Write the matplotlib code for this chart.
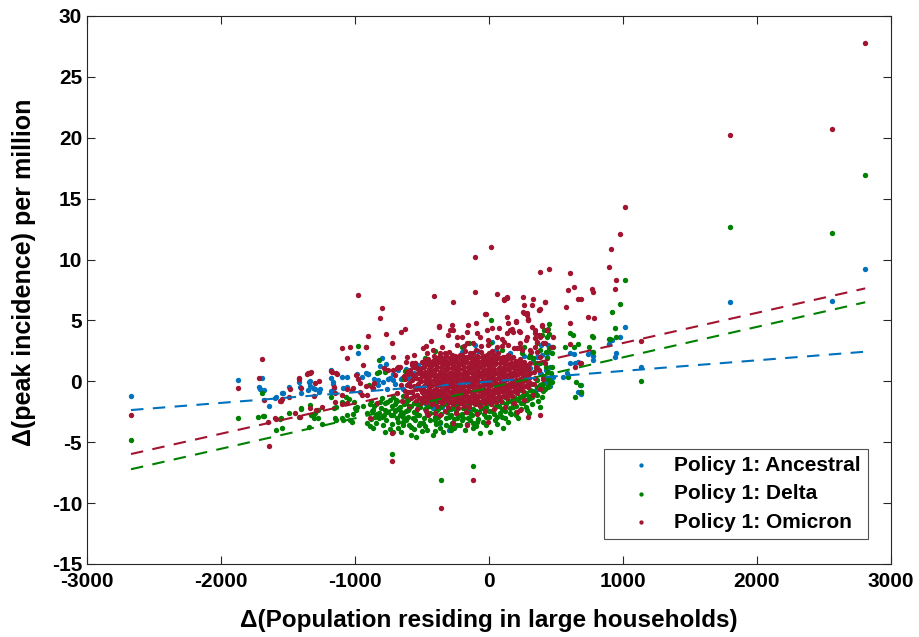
import numpy as np
import matplotlib.pyplot as plt

# ----Data----

series_names = ["Policy 1: Ancestral", "Policy 1: Delta", "Policy 1: Omicron"]
series_colors = ["#0072BD", "#008000", "#A2142F"]

ancestral = [
    (-2672, -1.18), (1801, 6.5), (2562, 6.6), (2808, 9.2),
    (1132, 1.15), (1017, 4.46), (978, 3.61), (896, 3.06), (950, 2.3), (940, 1.97), (893, 3.04), (916, 3.39),
    (739, 2.24), (771, 2.43), (774, 2.08), (778, 1.75),
    (607, 1.53), (640, 1.53), (604, 2.35), (632, 2.24), (666, 1.61), (662, -0.85), (687, -1.07), (687, -0.3),
    (584, 0.66), (554, 0.38),
    (386, 2.98), (443, 2.98), (450, 2.43), (393, 2.16), (431, 2.02), (356, 2.02), (405, 1.61), (455, 1.2),
    (460, 0.38), (425, 0.93), (381, 0.66),
    (-104, 2.98), (20, 3.25), (356, 1.48), (306, 1.07), (256, 0.93), (431, 0.79), (418, 0.11), (480, 0.38),
    (393, -0.3), (455, -0.39),
    (-1875, 0.08), (-1696, 0.3), (-1716, -0.44), (-1640, -2.03), (-1547, -0.93), (-1540, -0.93), (-1590, -1.31),
    (-1490, -0.44), (-1418, -0.03), (-1405, -0.93), (-1343, -0.03), (-1336, -0.39), (-1349, -0.71), (-1299, -0.66),
    (-1271, -0.85), (-1182, 0.93), (-1167, -0.03), (-1157, -0.57), (-1182, -0.77), (-980, 2.35), (-918, 0.66),
    (-900, 0.57), (-950, 0.33), (-1099, 0.38), (-1062, 0.38), (-1087, -0.57), (-1062, -0.44),
    (-801, 1.89), (-769, 1.42), (-813, 1.28), (-752, 0.19), (-714, 0.11), (-651, 0.25), (-627, 0.25), (-826, 0.11),
    (-793, -0.03), (-901, 0.6), (-987, 0.6), (-1179, 0.3), (-1162, -0.22), (-1336, 0.05), (-1316, -0.57),
    (-1261, -0.66), (-1410, -0.49), (-1597, -1.35), (-1709, -0.66), (-1679, -0.71),
    (-720, 0.6), (-700, -0.2), (-680, 0.9), (-660, 0.2), (-640, -0.6), (-620, 1.0), (-600, 0.3), (-580, -0.9),
    (-560, 0.7), (-530, 1.3), (-470, -1.9), (-420, -2.2), (-350, -2.1), (-280, -2.3), (-150, -2.3), (-60, -2.1),
    (-366, -3.46), (-300, -4.0), (-200, 2.4), (-80, 2.5), (50, 2.6), (160, 2.3), (260, 2.1), (330, 1.7),
    (360, 1.2), (390, 0.6), (410, -0.1), (350, -0.7), (300, -1.3), (-860, 0.2), (-830, -0.3), (-760, -0.6),
    (-740, 0.3), (-500, 0.5), (-450, -0.4), (-200, -0.8), (0, 0.3), (150, 0.6),
]

delta = [
    (-2672, -4.82), (1801, 12.7), (2562, 12.2), (2808, 16.9),
    (1132, 0.05), (1017, 8.32), (978, 6.35), (916, 5.66), (938, 4.35), (948, 3.61), (903, 3.5), (893, 3.47),
    (776, 3.66), (769, 3.72), (744, 2.79), (776, 2.41), (687, -0.85),
    (604, 3.99), (627, 3.78), (666, 3.06), (567, 2.84), (637, 2.84), (587, 0.38), (649, -0.03), (679, -0.3),
    (684, -0.88), (644, -1.26),
    (446, 4.7), (438, 4.29), (448, 3.88), (393, 3.8), (480, 2.84), (356, 3.12), (425, 2.43), (468, 2.3), (261, 2.84),
    (425, 1.2), (460, 0.66), (351, 1.07), (450, -0.03), (381, -0.3), (400, -0.57), (443, -0.44),
    (13, 5.03), (410, 4.21), (431, 3.66), (-403, 2.51), (-147, 3.12), (7, 3.12), (231, 2.71), (306, 2.16),
    (381, 2.57), (446, 2.71), (331, 1.89), (381, 1.48), (431, 1.89), (468, 1.2), (468, -0.03), (356, -0.44),
    (306, -0.71), (231, -1.26), (256, -1.81), (182, -2.08), (306, -1.4), (281, -2.36),
    (107, -3.86), (7, -4.14), (-67, -4.27), (-117, -3.86), (-216, -3.59), (-291, -3.73), (-366, -3.86),
    (-465, -4.0), (-490, -3.45), (-192, -3.04), (-92, -3.32), (57, -2.9), (157, -2.63), (-122, -6.95),
    (-360, -8.1), (-726, -5.99),
    (-1875, -2.99), (-1696, -0.93), (-1722, -2.9), (-1679, -2.88), (-1592, -3.97), (-1547, -3.86), (-1560, -3.07),
    (-1490, -2.6), (-1405, -2.25), (-1418, -2.96), (-1341, -3.78), (-1336, -1.95), (-1299, -2.58), (-1331, -2.77),
    (-1276, -2.99), (-1249, -3.5), (-1157, -2.22), (-1149, -3.04), (-1142, -3.18), (-980, 2.9), (-920, 2.84),
    (-1087, -3.18), (-1025, -3.32), (-1013, -2.68), (-993, -2.36), (-1007, -1.67), (-987, -2.08), (-913, -3.45),
    (-888, -3.67), (-863, -3.86), (-851, -2.96), (-893, -0.3), (-838, 0.66), (-819, -2.58),
    (-819, 1.75), (-819, 0.74), (-776, 0.79), (-625, 0.87), (-1684, -2.85), (-1555, -3.04), (-1403, -2.22),
    (-1274, -2.36), (-1306, -3.04), (-1179, -1.31), (-1142, -2.13), (-1099, -1.67), (-1067, -1.26),
    (-1043, -1.48), (-1099, -3.04), (-1057, -2.77), (-1037, -3.18), (-1000, -2.22), (-938, -2.03),
    (-888, -1.86), (-913, -2.63), (-863, -2.36), (-776, -4.14), (-719, -4.14),
    (-815, -1.67), (-778, -1.81), (-741, -1.53), (-692, -1.53), (-667, -2.08), (-617, -1.81), (-778, -2.36),
    (-729, -2.77), (-667, -2.77), (-605, -2.36), (-617, -3.18), (-567, -3.04), (-542, -2.63), (-580, -3.73),
    (-679, -3.32), (-642, -3.59), (-542, -4.55),
    (-600, 0.8), (-640, 0.2), (-560, 1.2), (250, 2.3), (300, 2.0), (340, 1.5), (-480, 1.9), (-200, 2.8), (100, 2.6),
]

# green band under the dense centre
delta_core = [
    (-884, -1.6), (-876, -2.4), (-881, -3.1), (-843, -1.9), (-838, -2.7), (-846, -3.4),
    (-797, -1.4), (-805, -2.2), (-800, -2.9), (-794, -3.6), (-763, -1.7), (-757, -2.5), (-766, -3.2),
    (-718, -1.3), (-724, -2.0), (-715, -2.8), (-721, -3.5), (-684, -1.6), (-677, -2.3), (-683, -3.0), (-676, -3.8),
    (-641, -1.2), (-636, -1.9), (-645, -2.6), (-639, -3.3), (-603, -1.5), (-596, -2.2), (-604, -2.9), (-598, -3.6),
    (-557, -1.8), (-563, -2.5), (-555, -3.2), (-561, -3.9), (-522, -1.4), (-516, -2.1), (-524, -2.8), (-518, -3.4),
    (-483, -1.7), (-477, -2.3), (-484, -3.0), (-476, -3.7), (-437, -1.5), (-444, -2.0), (-438, -2.6), (-442, -3.2),
    (-403, -1.8), (-397, -2.4), (-404, -2.9), (-396, -3.5), (-401, -4.1), (-357, -1.6), (-364, -2.1), (-358, -2.7),
    (-362, -3.3), (-322, -1.9), (-317, -2.5), (-324, -3.0), (-318, -3.6), (-283, -1.7), (-276, -2.2), (-282, -2.8),
    (-277, -3.4), (-281, -4.0), (-237, -1.9), (-244, -2.4), (-238, -3.0), (-242, -3.6), (-203, -1.6), (-197, -2.2),
    (-204, -2.7), (-198, -3.2), (-157, -1.9), (-163, -2.5), (-156, -3.0), (-162, -3.5), (-122, -1.7), (-117, -2.3),
    (-124, -2.8), (-118, -3.4), (-83, -1.9), (-77, -2.5), (-82, -3.1), (-37, -1.6), (-43, -2.2), (-38, -2.7),
    (-42, -3.3), (3, -1.8), (-3, -2.4), (2, -2.9), (38, -1.6), (44, -2.1), (37, -2.7), (43, -3.2),
    (83, -1.5), (77, -2.0), (82, -2.6), (117, -1.3), (124, -1.9), (118, -2.4), (123, -3.0),
    (157, -1.1), (163, -1.6), (158, -2.2), (162, -2.7), (203, -0.9), (197, -1.4), (204, -2.0), (198, -2.5),
    (237, -0.7), (243, -1.2), (238, -1.8), (242, -2.3), (283, -0.4), (277, -1.0), (284, -1.5), (278, -2.1),
    (317, -0.2), (323, -0.8), (318, -1.3), (324, -1.9), (357, 0.1), (363, -0.5), (358, -1.1), (364, -1.6),
    (403, 0.4), (397, -0.2), (404, -0.8), (398, -1.3), (437, 0.8), (443, 0.2), (438, -0.4),
    (-860, -2.0), (-820, -3.0), (-780, -2.8), (-740, -3.9), (-700, -2.4), (-660, -4.2), (-620, -2.4),
    (-580, -4.4), (-540, -1.9), (-500, -4.1), (-460, -2.7), (-420, -4.4), (-380, -2.9), (-340, -4.2),
    (-300, -2.3), (-260, -3.8), (-220, -2.8), (-180, -4.0), (-140, -2.6), (-100, -3.7), (-60, -2.2),
    (-20, -3.6), (20, -2.4), (60, -3.5), (100, -2.3), (140, -3.3), (180, -1.9), (220, -3.0), (260, -1.6),
    (300, -2.6), (340, -1.0), (380, -2.1), (420, -0.6),
    (-700, -1.9), (-660, -2.5), (-620, -1.6), (-580, -2.0), (-540, -2.8), (-500, -1.6), (-460, -2.1),
    (-420, -1.7), (-380, -2.3), (-340, -1.9), (-300, -2.9), (-260, -2.0), (-220, -1.7), (-180, -2.2),
    (-140, -1.8), (-100, -2.4), (-60, -1.8), (-20, -2.1), (20, -1.7), (60, -2.0), (100, -1.7), (140, -1.6),
    (180, -1.3), (220, -1.5), (260, -1.1), (300, -1.2), (-640, -2.9), (-520, -3.6), (-400, -3.2),
    (-260, -3.1), (-140, -3.2), (-20, -2.9), (100, -2.9), (200, -2.8),
]

omicron = [
    (-2672, -2.77), (1801, 20.2), (2562, 20.7), (2808, 27.8),
    (1017, 14.29), (980, 12.12), (913, 10.89), (893, 9.36), (950, 8.34), (938, 7.58), (1137, 3.33),
    (769, 7.58), (774, 7.31), (741, 5.3), (781, 5.2), (687, 6.73), (679, 1.53),
    (604, 8.87), (634, 7.72), (592, 7.5), (666, 6.76), (572, 6.12), (604, 4.81), (378, 8.97), (446, 9.25),
    (602, 3.06), (687, 1.53), (644, 1.2),
    (251, 6.95), (326, 6.76), (418, 6.51), (381, 5.91), (263, 6.26), (112, 6.73), (137, 6.95),
    (256, 5.71), (281, 5.44), (293, 5.03), (201, 4.89), (393, 4.62), (431, 4.21), (480, 3.66), (343, 4.21),
    (375, 3.8), (157, 4.21), (231, 4.07), (343, 3.53), (281, 3.66),
    (468, 2.84), (405, 3.12), (343, 2.84), (306, 2.57), (356, 2.43), (231, 2.84),
    (-266, 6.54), (418, 6.54), (373, 5.85), (-22, 5.53), (132, 5.3), (144, 4.81), (201, 4.98), (281, 5.63), (289, 5.03),
    (-373, 4.54), (-278, 4.62), (-271, 4.21), (-154, 4.62), (-97, 4.76), (-92, 3.94), (77, 4.35), (137, 3.94),
    (95, 3.45), (177, 4.07), (226, 4.15), (319, 4.43), (343, 3.94),
    (435, 4.21), (418, 3.12), (381, 3.66), (356, 3.25), (276, 3.39), (231, 3.12), (207, 2.71), (144, 2.98),
    (-304, 3.8), (-237, 3.61), (-204, 3.61), (-166, 3.12), (-117, 3.12), (-67, 3.61), (-10, 3.39), (57, 3.66), (95, 2.9),
    (-490, 2.71), (-465, 2.3), (-416, 2.57), (-366, 2.3), (-478, 1.75), (-403, 1.81),
    (293, -2.9), (381, -2.77), (231, -2.36),
    (13, 11.05), (-104, 10.23), (-980, 7.06), (-410, 7.0), (-104, 7.36), (57, 7.14), (112, 6.67), (132, 6.86),
    (-376, 4.48), (-291, 4.21), (-162, 4.07), (-27, 5.53), (-17, 4.21), (20, 4.35), (169, 4.29),
    (263, 5.63), (291, 5.09), (393, 4.56), (375, 5.85), (319, 6.26),
    (-360, -10.4), (-119, -8.13), (-726, -6.54), (-724, -4.27),
    (-1875, -0.57), (-1696, 1.83), (-1716, 0.25), (-1679, -1.56), (-1640, -5.28), (-1592, -3.12), (-1547, -1.43),
    (-1557, -1.64), (-1490, -1.29), (-1418, 0.25), (-1405, -0.57), (-1349, 0.66), (-1331, 0.79), (-1299, -0.11),
    (-1271, 0.0), (-1304, -1.21), (-1179, 0.85), (-1142, 0.66), (-1157, -0.44), (-1149, -1.67), (-1095, 2.71),
    (-1062, 1.89), (-1037, 2.84), (-1025, -0.71), (-993, 0.52), (-975, 0.16), (-963, -0.9), (-943, 1.34),
    (-875, -0.44), (-863, -0.57), (-858, -0.16), (-838, -1.76), (-888, -3.04),
    (-801, 6.0), (-813, 5.22), (-769, 3.91), (-901, 3.74), (-657, 4.07), (-625, 4.32), (-724, 3.12), (-920, 2.82),
    (-719, 2.02), (-612, 1.97), (-784, 1.07), (-752, 0.93), (-714, 0.93), (-684, 1.07), (-664, 1.2), (-577, 1.48),
    (-552, 1.53), (-540, 1.07), (-614, 0.79), (-590, 0.66), (-634, 0.44), (-1336, 0.71), (-1356, 0.6),
    (-1416, 0.21), (-1485, -0.63), (-1552, -1.62), (-1336, -2.22), (-1291, -2.36), (-1249, -2.08),
    (-1448, -2.63), (-1410, -2.9), (-1597, -3.04), (-1647, -3.32), (-1149, -0.99), (-1099, -1.12), (-1057, -0.66),
    (-1013, -0.57), (-1099, -1.86), (-1062, -1.81), (-1174, 0.79), (-1137, 0.6), (-963, -0.16), (-918, -0.39),
    (-950, -1.12), (-913, -1.12),
    (-266, -3.46), (-166, -3.59), (-7, -3.32), (-366, -2.77), (-455, -2.77), (207, -2.5),
    (-470, 2.9), (-430, 3.3), (-350, 2.8), (-240, 3.0), (-190, 2.9), (-60, 2.9), (-5, 3.0), (60, 2.8), (110, 3.2),
    (190, 2.7), (250, 2.6), (310, 2.4), (380, 2.0), (420, 1.5), (-560, 2.2), (-620, 1.6), (-680, 1.2), (-700, 0.5),
    (-660, -0.3), (-690, -1.0), (-650, -1.6), (-600, -2.0), (-540, -2.3), (-470, -2.4), (-400, -2.6), (-330, -2.4),
    (-250, -2.6), (-170, -2.5), (-90, -2.7), (-30, -2.4), (40, -2.3), (120, -2.1), (190, -1.8), (260, -1.5),
    (330, -1.1), (380, -0.6), (400, 0.2), (370, 0.9),
]

# the solid red blob in the middle
omicron_core = [
    (-625, -0.8), (-612, -0.3), (-630, 0.2), (-606, 0.6), (-618, -1.2),
    (-585, -1.4), (-572, -0.9), (-590, -0.4), (-578, 0.1), (-566, 0.5), (-588, 0.9), (-575, 1.3),
    (-548, -1.6), (-536, -1.1), (-545, -0.6), (-530, -0.2), (-542, 0.3), (-527, 0.7), (-538, 1.1), (-550, 1.5),
    (-508, -1.8), (-495, -1.3), (-503, -0.9), (-490, -0.5), (-511, 0.0), (-497, 0.4), (-506, 0.8), (-492, 1.2), (-500, 1.6),
    (-468, -1.7), (-455, -1.4), (-462, -1.0), (-450, -0.6), (-466, -0.2), (-452, 0.2), (-460, 0.6), (-447, 1.0),
    (-464, 1.4), (-455, 1.8),
    (-428, -1.9), (-415, -1.5), (-423, -1.1), (-410, -0.7), (-426, -0.3), (-413, 0.1), (-421, 0.5), (-408, 0.9),
    (-425, 1.3), (-416, 1.7), (-411, 2.1),
    (-388, -2.0), (-376, -1.6), (-384, -1.2), (-372, -0.8), (-386, -0.4), (-374, 0.0), (-382, 0.4), (-369, 0.8),
    (-385, 1.2), (-377, 1.6), (-371, 2.0),
    (-348, -1.8), (-335, -1.4), (-343, -1.0), (-331, -0.6), (-346, -0.2), (-334, 0.2), (-341, 0.6), (-329, 1.0),
    (-345, 1.4), (-337, 1.8), (-332, 2.3),
    (-308, -2.1), (-296, -1.7), (-304, -1.3), (-291, -0.9), (-306, -0.5), (-294, -0.1), (-302, 0.3), (-289, 0.7),
    (-305, 1.1), (-297, 1.5), (-292, 1.9), (-300, 2.4),
    (-268, -1.9), (-255, -1.5), (-263, -1.1), (-251, -0.7), (-266, -0.3), (-254, 0.1), (-261, 0.5), (-249, 0.9),
    (-265, 1.3), (-257, 1.7), (-252, 2.1),
    (-228, -2.2), (-215, -1.8), (-223, -1.4), (-211, -1.0), (-226, -0.6), (-214, -0.2), (-221, 0.2), (-209, 0.6),
    (-225, 1.0), (-217, 1.4), (-212, 1.8), (-220, 2.2),
    (-188, -2.0), (-175, -1.6), (-183, -1.2), (-171, -0.8), (-186, -0.4), (-174, 0.0), (-181, 0.4), (-169, 0.8),
    (-185, 1.2), (-177, 1.6), (-172, 2.0), (-180, 2.5),
    (-148, -2.1), (-135, -1.7), (-143, -1.3), (-131, -0.9), (-146, -0.5), (-134, -0.1), (-141, 0.3), (-129, 0.7),
    (-145, 1.1), (-137, 1.5), (-132, 1.9), (-140, 2.3),
    (-108, -1.9), (-95, -1.5), (-103, -1.1), (-91, -0.7), (-106, -0.3), (-94, 0.1), (-101, 0.5), (-89, 0.9),
    (-105, 1.3), (-97, 1.7), (-92, 2.1), (-100, 2.6),
    (-68, -2.0), (-55, -1.6), (-63, -1.2), (-51, -0.8), (-66, -0.4), (-54, 0.0), (-61, 0.4), (-49, 0.8),
    (-65, 1.2), (-57, 1.6), (-52, 2.0), (-60, 2.4),
    (-28, -1.8), (-15, -1.4), (-23, -1.0), (-11, -0.6), (-26, -0.2), (-14, 0.2), (-21, 0.6), (-9, 1.0),
    (-25, 1.4), (-17, 1.8), (-12, 2.2),
    (12, -1.9), (25, -1.5), (17, -1.1), (29, -0.7), (14, -0.3), (26, 0.1), (19, 0.5), (31, 0.9), (15, 1.3),
    (23, 1.7), (28, 2.1), (20, 2.5),
    (52, -1.7), (65, -1.3), (57, -0.9), (69, -0.5), (54, -0.1), (66, 0.3), (59, 0.7), (71, 1.1), (55, 1.5),
    (63, 1.9), (68, 2.3),
    (92, -1.6), (105, -1.2), (97, -0.8), (109, -0.4), (94, 0.0), (106, 0.4), (99, 0.8), (111, 1.2), (95, 1.6), (103, 2.0),
    (132, -1.4), (145, -1.0), (137, -0.6), (149, -0.2), (134, 0.2), (146, 0.6), (139, 1.0), (151, 1.4), (135, 1.8), (143, 2.2),
    (172, -1.2), (185, -0.8), (177, -0.4), (189, 0.0), (174, 0.4), (186, 0.8), (179, 1.2), (191, 1.6), (176, 2.0),
    (212, -1.0), (225, -0.6), (217, -0.2), (229, 0.2), (214, 0.6), (226, 1.0), (219, 1.4), (231, 1.8),
    (252, -0.8), (265, -0.4), (257, 0.0), (269, 0.4), (254, 0.8), (266, 1.2), (259, 1.6),
    (292, -0.5), (305, -0.1), (297, 0.3), (309, 0.7), (294, 1.1), (303, 1.5),
    (335, -0.2), (346, 0.3), (338, 0.8), (350, 1.2),
    # second, offset layer
    (-480, -1.2), (-482, -0.4), (-478, 0.4), (-484, 1.2),
    (-440, -1.6), (-437, -0.8), (-443, 0.0), (-439, 0.8), (-441, 1.6),
    (-400, -1.4), (-397, -0.6), (-403, 0.2), (-399, 1.0), (-401, 1.8),
    (-360, -1.6), (-357, -0.8), (-363, 0.0), (-359, 0.8), (-361, 1.6),
    (-320, -1.5), (-317, -0.7), (-323, 0.1), (-319, 0.9), (-321, 1.7),
    (-280, -1.7), (-277, -0.9), (-283, -0.1), (-279, 0.7), (-281, 1.5), (-278, 2.2),
    (-240, -1.6), (-237, -0.8), (-243, 0.0), (-239, 0.8), (-241, 1.6),
    (-200, -1.8), (-197, -1.0), (-203, -0.2), (-199, 0.6), (-201, 1.4), (-198, 2.2),
    (-160, -1.6), (-157, -0.8), (-163, 0.0), (-159, 0.8), (-161, 1.6),
    (-120, -1.7), (-117, -0.9), (-123, -0.1), (-119, 0.7), (-121, 1.5), (-118, 2.3),
    (-80, -1.6), (-77, -0.8), (-83, 0.0), (-79, 0.8), (-81, 1.6),
    (-40, -1.5), (-37, -0.7), (-43, 0.1), (-39, 0.9), (-41, 1.7),
    (0, -1.6), (3, -0.8), (-3, 0.0), (1, 0.8), (-1, 1.6), (2, 2.3),
    (40, -1.4), (43, -0.6), (37, 0.2), (41, 1.0), (39, 1.8),
    (80, -1.3), (83, -0.5), (77, 0.3), (81, 1.1), (79, 1.9),
    (120, -1.1), (123, -0.3), (117, 0.5), (121, 1.3), (119, 2.0),
    (160, -0.9), (163, -0.1), (157, 0.7), (161, 1.5),
    (200, -0.7), (203, 0.1), (197, 0.9), (201, 1.7),
    (240, -0.5), (243, 0.3), (237, 1.1),
    (280, -0.3), (283, 0.5), (277, 1.3),
    # third layer, filling the gaps
    (-602, -0.9), (-598, -0.1), (-601, 0.7),
    (-562, -1.2), (-558, -0.4), (-561, 0.4), (-557, 1.2),
    (-522, -1.4), (-518, -0.6), (-521, 0.2), (-517, 1.0),
    (-482, -1.6), (-478, -0.8), (-481, 0.0), (-477, 0.8), (-479, 1.6),
    (-442, -1.2), (-438, -0.4), (-441, 0.4), (-437, 1.2),
    (-402, -1.0), (-398, -0.2), (-401, 0.6), (-397, 1.4),
    (-362, -1.2), (-358, -0.4), (-361, 0.4), (-357, 1.2), (-359, 2.0),
    (-322, -1.1), (-318, -0.3), (-321, 0.5), (-317, 1.3), (-319, 2.1),
    (-282, -1.3), (-278, -0.5), (-281, 0.3), (-277, 1.1), (-279, 1.9),
    (-242, -1.2), (-238, -0.4), (-241, 0.4), (-237, 1.2), (-239, 2.0),
    (-202, -1.4), (-198, -0.6), (-201, 0.2), (-197, 1.0), (-199, 1.8),
    (-162, -1.2), (-158, -0.4), (-161, 0.4), (-157, 1.2), (-159, 2.0),
    (-122, -1.3), (-118, -0.5), (-121, 0.3), (-117, 1.1), (-119, 1.9),
    (-82, -1.2), (-78, -0.4), (-81, 0.4), (-77, 1.2), (-79, 2.0),
    (-42, -1.1), (-38, -0.3), (-41, 0.5), (-37, 1.3), (-39, 2.1),
    (-2, -1.2), (2, -0.4), (-1, 0.4), (3, 1.2), (1, 1.9),
    (38, -1.0), (42, -0.2), (39, 0.6), (43, 1.4), (41, 2.2),
    (78, -0.9), (82, -0.1), (79, 0.7), (83, 1.5),
    (118, -0.7), (122, 0.1), (119, 0.9), (123, 1.7),
    (158, -0.5), (162, 0.3), (159, 1.1), (163, 1.9),
    (198, -0.3), (202, 0.5), (199, 1.3),
    (238, -0.1), (242, 0.7), (239, 1.5),
    (278, 0.1), (282, 0.9),
]

# least-squares fit lines: slope, intercept, x range
fit_slope = [0.000874, 0.002502, 0.002482]
fit_intercept = [-0.024, -0.535, 0.66]
fit_xrange = [-2672, 2808]

# ----Plotting----

plt.rcParams["font.family"] = ["Liberation Sans", "DejaVu Sans"]
plt.rcParams["font.weight"] = "bold"
plt.rcParams["axes.unicode_minus"] = False

fig = plt.figure(figsize=(9.19, 6.37), dpi=100)
ax = fig.add_axes([0.0947, 0.1146, 0.8748, 0.8604])

all_series = [ancestral, delta + delta_core, omicron + omicron_core]
for pts, name, col in zip(all_series, series_names, series_colors):
    arr = np.array(pts)
    ax.scatter(arr[:, 0], arr[:, 1], s=15, color=col, linewidths=0, label=name, zorder=2)

xfit = np.array(fit_xrange)
for m, c, col in zip(fit_slope, fit_intercept, series_colors):
    ax.plot(xfit, m * xfit + c, color=col, linestyle=(0, (6, 4.5)), linewidth=1.5, zorder=3)

ax.set_xlim(-3000, 3000)
ax.set_ylim(-15, 30)
ax.set_xticks(np.arange(-3000, 3001, 1000))
ax.set_yticks(np.arange(-15, 31, 5))
ax.tick_params(direction="in", length=6, width=0.8, top=True, right=True, labelsize=15, colors="#262626")
ax.tick_params(axis="x", pad=6)
ax.tick_params(labelcolor="black")
for sp in ax.spines.values():
    sp.set_linewidth(0.8)
    sp.set_color("#262626")

ax.set_xlabel("\u0394(Population residing in large households)", fontsize=17.5, fontweight="bold", labelpad=13)
ax.set_ylabel("\u0394(peak incidence) per million", fontsize=18, fontweight="bold", labelpad=0)
ax.yaxis.set_label_coords(-0.064, 0.533)

leg = ax.legend(loc="lower right", bbox_to_anchor=(0.9714, 0.0456), borderaxespad=0, fontsize=15,
                frameon=True, fancybox=False, edgecolor="#262626", handlelength=2.8, handletextpad=0.2,
                borderpad=0.35, labelspacing=0.45, markerscale=0.8, scatterpoints=1)
leg.get_frame().set_linewidth(0.8)
for t in leg.get_texts():
    t.set_fontweight("bold")

plt.savefig("out.png", dpi=100)
